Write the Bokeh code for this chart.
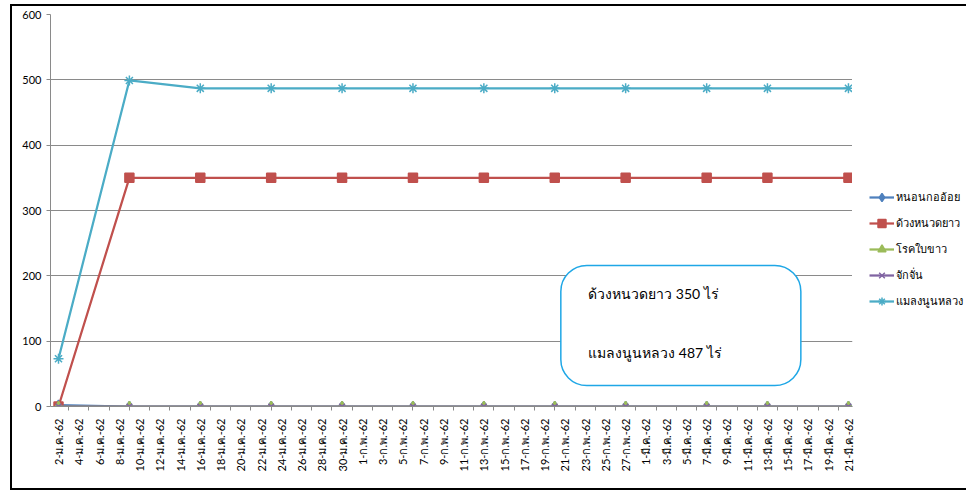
import pandas as pd
from bokeh.plotting import figure
from bokeh.models import FixedTicker, Legend, LegendItem, BoxAnnotation, Label, Range1d
from bokeh.embed import file_html
from bokeh.resources import INLINE

# ---------------- data ----------------
point_dates = ["2019-01-02", "2019-01-09", "2019-01-16", "2019-01-23", "2019-01-30",
               "2019-02-06", "2019-02-13", "2019-02-20", "2019-02-27", "2019-03-07",
               "2019-03-13", "2019-03-21"]
series_names = ["หนอนกออ้อย", "ด้วงหนวดยาว", "โรคใบขาว", "จักจั่น", "แมลงนูนหลวง"]
sugarcane_borer = [2, 0, 0, 0, 0, 0, 0, 0, 0, 0, 0, 0]
longhorn_beetle = [0, 350, 350, 350, 350, 350, 350, 350, 350, 350, 350, 350]
white_leaf = [0, 0, 0, 0, 0, 0, 0, 0, 0, 0, 0, 0]
leafhopper = [0, 0, 0, 0, 0, 0, 0, 0, 0, 0, 0, 0]
white_grub = [73, 499, 487, 487, 487, 487, 487, 487, 487, 487, 487, 487]
axis_start = "2019-01-02"
tick_labels = [
    "2-ม.ค.-62", "4-ม.ค.-62", "6-ม.ค.-62", "8-ม.ค.-62", "10-ม.ค.-62", "12-ม.ค.-62",
    "14-ม.ค.-62", "16-ม.ค.-62", "18-ม.ค.-62", "20-ม.ค.-62", "22-ม.ค.-62", "24-ม.ค.-62",
    "26-ม.ค.-62", "28-ม.ค.-62", "30-ม.ค.-62", "1-ก.พ.-62", "3-ก.พ.-62", "5-ก.พ.-62",
    "7-ก.พ.-62", "9-ก.พ.-62", "11-ก.พ.-62", "13-ก.พ.-62", "15-ก.พ.-62", "17-ก.พ.-62",
    "19-ก.พ.-62", "21-ก.พ.-62", "23-ก.พ.-62", "25-ก.พ.-62", "27-ก.พ.-62", "1-มี.ค.-62",
    "3-มี.ค.-62", "5-มี.ค.-62", "7-มี.ค.-62", "9-มี.ค.-62", "11-มี.ค.-62", "13-มี.ค.-62",
    "15-มี.ค.-62", "17-มี.ค.-62", "19-มี.ค.-62", "21-มี.ค.-62",
]
unit = "ไร่"

# ---------------- derived ----------------
x = list((pd.to_datetime(point_dates) - pd.Timestamp(axis_start)).days)
tick_pos = list(range(0, 2 * len(tick_labels), 2))
minor_pos = [t + 1 for t in tick_pos[:-1]]

FONT = "Lato"

p = figure(frame_width=802, frame_height=392, output_backend="svg", toolbar_location=None,
           x_range=Range1d(-0.79, 78.4), y_range=Range1d(0, 600),
           min_border_left=38, min_border_right=112, min_border_top=8, min_border_bottom=82)
p.styles = {"margin-left": "10px", "margin-top": "4px",
            "border-top": "2px solid #000", "border-left": "2px solid #000",
            "border-bottom": "2px solid #000"}
p.outline_line_color = None
p.background_fill_color = "white"
p.border_fill_color = "white"

p.xgrid.visible = False
p.ygrid.grid_line_color = "#8a8a8a"
p.ygrid.grid_line_width = 1

p.yaxis.ticker = FixedTicker(ticks=[0, 100, 200, 300, 400, 500, 600])
p.yaxis.axis_line_color = "#8a8a8a"
p.yaxis.major_tick_line_color = "#8a8a8a"
p.yaxis.major_tick_in = 0
p.yaxis.major_tick_out = 4
p.yaxis.minor_tick_line_color = None
p.yaxis.major_label_text_font = FONT
p.yaxis.major_label_text_font_size = "11px"
p.yaxis.major_label_text_color = "#000000"
p.yaxis.major_label_standoff = 5

p.xaxis.ticker = FixedTicker(ticks=tick_pos, minor_ticks=minor_pos)
p.xaxis.major_label_overrides = {t: l for t, l in zip(tick_pos, tick_labels)}
p.xaxis.major_label_orientation = 3.14159265 / 2
p.xaxis.axis_line_color = "#8a8a8a"
p.xaxis.major_tick_line_color = None
p.xaxis.minor_tick_line_color = "#8a8a8a"
p.xaxis.minor_tick_in = 0
p.xaxis.minor_tick_out = 4
p.xaxis.major_label_text_font = FONT
p.xaxis.major_label_text_font_size = "11px"
p.xaxis.major_label_text_color = "#000000"
p.xaxis.major_label_standoff = 6

colors = ["#4F81BD", "#C0504D", "#9BBB59", "#8064A2", "#4BACC6"]
markers = ["diamond", "square", "triangle", "x", "asterisk"]
sizes = [10, 9, 9, 8, 10]
values = [sugarcane_borer, longhorn_beetle, white_leaf, leafhopper, white_grub]

items = []
for name, col, mk, sz, vals in zip(series_names, colors, markers, sizes, values):
    r1 = p.line(x, vals, line_color=col, line_width=2.25)
    r2 = p.scatter(x, vals, marker=mk, size=sz, fill_color=col, line_color=col, line_width=1.5)
    items.append(LegendItem(label=name, renderers=[r1, r2]))

legend = Legend(items=items, location="top_left", orientation="vertical",
                title=" ", title_text_font_size="8px", title_standoff=147,
                glyph_width=25, glyph_height=20, label_height=20, spacing=6,
                padding=16, margin=0, label_standoff=2,
                label_text_font=FONT, label_text_font_size="11px",
                label_text_color="#000000",
                border_line_color="white", border_line_alpha=1.0, border_line_width=1,
                background_fill_color="white", background_fill_alpha=1.0)
p.add_layout(legend, "right")

# annotation callout
box = BoxAnnotation(left=49.6, right=73.3, bottom=32, top=216,
                    fill_color="white", fill_alpha=1.0,
                    line_color="#1FA7E6", line_alpha=1.0, line_width=1.5, border_radius=26)
p.add_layout(box)
p.add_layout(Label(x=52.3, y=173, text=f"{series_names[1]} {longhorn_beetle[-1]} {unit}",
                   text_font=FONT, text_font_size="14px", text_color="#000000",
                   text_baseline="middle"))
p.add_layout(Label(x=52.3, y=83, text=f"{series_names[4]} {white_grub[-1]} {unit}",
                   text_font=FONT, text_font_size="14px", text_color="#000000",
                   text_baseline="middle"))

open("out.html", "w").write(file_html(p, INLINE))
